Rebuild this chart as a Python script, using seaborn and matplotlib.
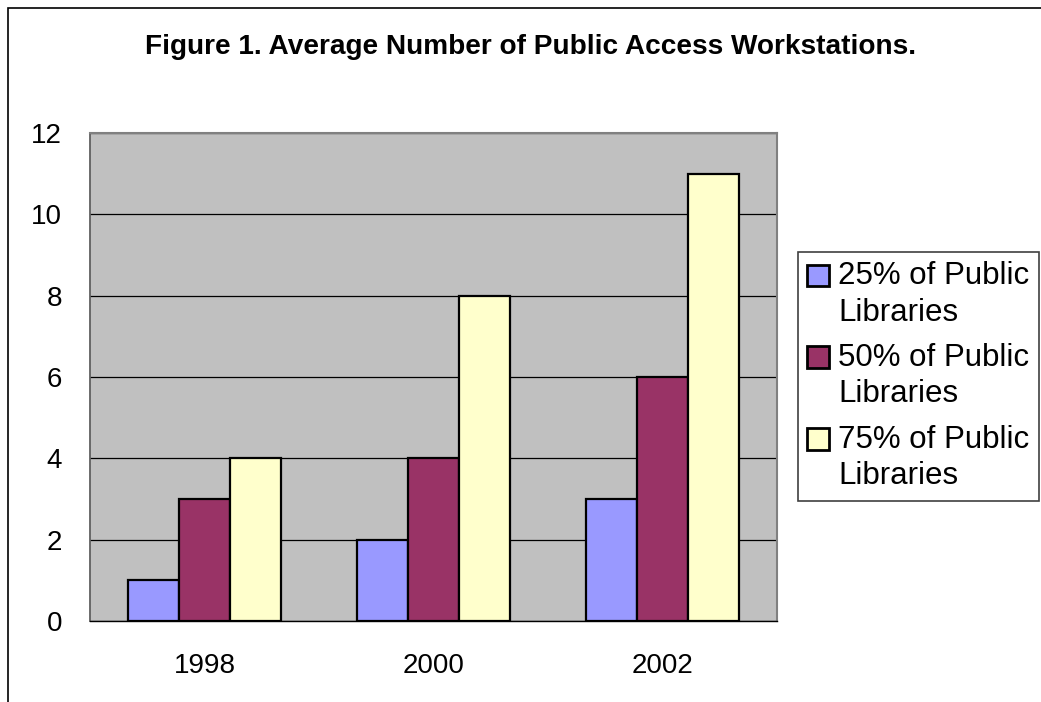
import matplotlib
matplotlib.use("Agg")
import matplotlib.pyplot as plt
import seaborn as sns
import pandas as pd
from matplotlib.patches import Rectangle
from matplotlib.legend_handler import HandlerPatch

years = ["1998", "2000", "2002"]
series = ["25% of Public\nLibraries", "50% of Public\nLibraries", "75% of Public\nLibraries"]
v25 = [1, 2, 3]
v50 = [3, 4, 6]
v75 = [4, 8, 11]
colors = ["#9999FF", "#993366", "#FFFFCC"]

rows = []
for s, vals in zip(series, [v25, v50, v75]):
    for y, v in zip(years, vals):
        rows.append({"year": y, "series": s, "value": v})
df = pd.DataFrame(rows)

sns.set_style("white")
plt.rcParams['font.family'] = ['Liberation Sans', 'DejaVu Sans']
plt.rcParams['text.color'] = 'black'
plt.rcParams['xtick.labelcolor'] = 'black'
plt.rcParams['ytick.labelcolor'] = 'black'

fig = plt.figure(figsize=(10.41, 7.02), dpi=100)
W, H = 1041, 702
ax = fig.add_axes([90 / W, 1 - 621 / H, (777 - 90) / W, (621 - 133) / H])
ax.set_facecolor("#C0C0C0")

sns.barplot(data=df, x="year", y="value", hue="series", palette=colors,
            width=0.667, gap=0, edgecolor="black", linewidth=1.6,
            saturation=1, ax=ax, zorder=3)

ax.set_ylim(0, 12)
ax.set_xlim(-0.5, 2.5)
ax.set_yticks(range(0, 13, 2))
ax.yaxis.grid(True, color="black", linewidth=0.9, zorder=1)
ax.set_axisbelow(True)
ax.set_xlabel("")
ax.set_ylabel("")

ax.set_xticks([-0.5, 0.5, 1.5, 2.5])
ax.set_xticklabels([])
ax.set_xticks([0, 1, 2], minor=True)
ax.set_xticklabels(years, minor=True)
ax.tick_params(axis="x", which="minor", length=0, labelsize=20, pad=23,
               labelcolor="black")
ax.tick_params(axis="x", which="major", length=8, width=1, color="black", direction="out")
ax.tick_params(axis="y", length=8, width=1, color="#606060", direction="out",
               labelsize=20, pad=12, labelcolor="black")

ax.spines["bottom"].set_color("black")
ax.spines["bottom"].set_linewidth(1)
ax.spines["left"].set_color("#606060")
ax.spines["left"].set_linewidth(1.3)
for side in ["top", "right"]:
    ax.spines[side].set_color("#808080")
    ax.spines[side].set_linewidth(1.5)


def top_patch(legend, orig_handle, xdescent, ydescent, width, height, fontsize):
    shift = 0.63 * fontsize
    return Rectangle((-xdescent, -ydescent + shift), width, height)


handles, labels = ax.get_legend_handles_labels()
if ax.legend_ is not None:
    ax.legend_.remove()
for h in handles:
    h.set_linewidth(2)
leg = fig.legend(handles, labels, loc="upper left",
                 bbox_to_anchor=(798 / W, 1 - 252 / H),
                 fontsize=22.5, frameon=True, fancybox=False,
                 edgecolor="#404040", framealpha=1,
                 handlelength=0.68, handleheight=0.68, handletextpad=0.3,
                 labelspacing=0.5, borderpad=0.3, borderaxespad=0,
                 handler_map={type(handles[0]): HandlerPatch(patch_func=top_patch)})
leg.get_frame().set_linewidth(1.2)
for t in leg.get_texts():
    t.set_color("black")
    t.set_linespacing(1.27)

fig.suptitle("Figure 1. Average Number of Public Access Workstations.",
             x=531 / W, y=1 - 47 / H, va="center", fontsize=20.2,
             fontweight="bold", color="black")

fig.patches.append(Rectangle((8 / W, -0.1), 1.2, 1 - 8 / H + 0.1,
                             transform=fig.transFigure, fill=False,
                             edgecolor="black", linewidth=1.2, clip_on=False))

fig.savefig("out.png", dpi=100)
